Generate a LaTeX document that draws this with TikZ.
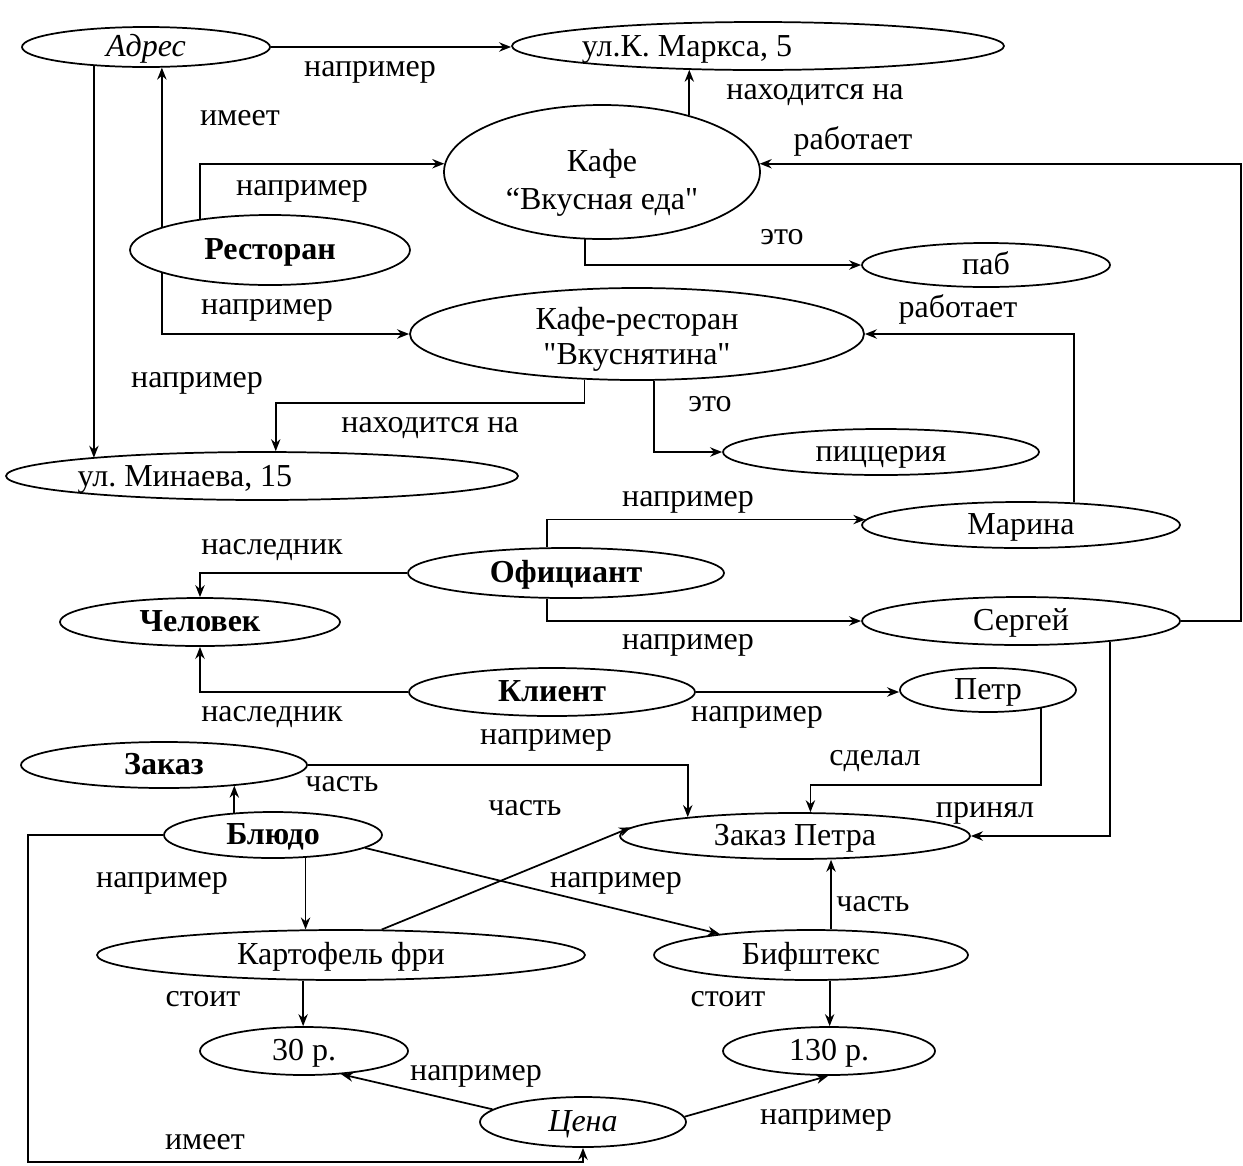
\documentclass[tikz,border=0pt]{standalone}
\usepackage{fontspec}
\setmainfont{Liberation Serif}
\newfontfamily\nolig{Liberation Serif}[Ligatures=TeXOff]
\usetikzlibrary{arrows.meta,shapes.geometric}
\frenchspacing
\newcommand{\sq}{{\nolig\char34}}
\begin{document}
\begin{tikzpicture}[x=0.75pt,y=-0.75pt,
  font=\fontsize{24}{28.5}\selectfont,
  txt/.style={text height=14pt,text depth=0pt},
  el/.style 2 args={ellipse,draw,line width=1.3pt,inner sep=0pt,txt,
    minimum width=#1*1.5pt,minimum height=#2*1.5pt},
  con/.style={line width=1.3pt,-{Stealth[length=9pt,width=7pt]}},
  lab/.style={inner sep=0pt,txt}]
\useasboundingbox (0,0) rectangle (1243,1165);
\coordinate (fr) at (1241,0);
% nodes
\node[el={124}{20}] (adr) at (146,47) {\itshape Адрес};
\node[el={246}{24}] (marx) at (758,46) {};
\node[lab] (marxt) at (687,47) {ул.К. Маркса, 5};
\node[el={158}{67}] (kafe) at (602,172) {};
\node[lab] (kafe1) at (602,162) {Кафе};
\node[lab] (kafe2) at (602,200) {“Вкусная еда\sq};
\node[el={140}{35}] (rest) at (270,250) {\bfseries Ресторан};
\node[el={124}{22}] (pab) at (986,265) {паб};
\node[el={227}{46}] (kr) at (637,334) {};
\node[lab] (kr1) at (637,320) {Кафе-ресторан};
\node[lab] (kr2) at (637,355) {\sq Вкуснятина\sq};
\node[el={158}{23}] (pizz) at (881,452) {пиццерия};
\node[el={256}{24}] (min) at (262,476) {};
\node[lab] (mint) at (185,477) {ул. Минаева, 15};
\node[el={159}{23}] (mar) at (1021,525) {Марина};
\node[el={158}{25}] (ofic) at (566,573) {\bfseries Официант};
\node[el={140}{24}] (chel) at (200,622) {\bfseries Человек};
\node[el={159}{24}] (serg) at (1021,621) {Сергей};
\node[el={143}{24}] (kli) at (552,692) {\bfseries Клиент};
\node[el={88}{22}] (petr) at (988,690) {Петр};
\node[el={143}{23}] (zak) at (164,765) {\bfseries Заказ};
\node[el={109}{23}] (blu) at (273,835) {\bfseries Блюдо};
\node[el={175}{23}] (zp) at (795,836) {Заказ Петра};
\node[el={244}{25}] (kart) at (341,955) {Картофель фри};
\node[el={157}{25}] (bif) at (811,955) {Бифштекс};
\node[el={104}{24}] (p30) at (304,1051) {30 р.};
\node[el={106}{24}] (p130) at (829,1051) {130 р.};
\node[el={103}{25}] (cena) at (583,1122) {\itshape Цена};
% connectors
\draw[con] (adr.east) -- (adr.east -| marx.west);
\draw[con] (adr.200) -- (adr.200 |- min.174);
\draw[con] (rest.168) -- (rest.168 |- adr.314);
\draw[con] (rest.192) |- (kr.west);
\draw[con] (rest.156) |- (kafe.177);
\draw[con] (kafe.33) -- (kafe.33 |- marx.198);
\draw[con] (serg.east) -- (serg.east -| fr) |- (kafe.3);
\draw[con] (kafe.256) |- (pab.west);
\draw[con] (mar.23) |- (kr.east);
\draw[con] (kr.221) -- (kr.221 |- 0,403) -| (min.61);
\draw[con] (kr.290) |- (pizz.west);
\draw[con] (ofic.126) |- (mar.178);
\draw[con] (ofic.234) |- (serg.west);
\draw[con] (ofic.west) -| (chel.north);
\draw[con] (kli.west) -| (chel.south);
\draw[con] (kli.east) -- (kli.east -| petr.west);
\draw[con] (petr.341) -- (petr.341 |- 0,785) -| (zp.57);
\draw[con] (serg.347) |- (zp.east);
\draw[con] (zak.east) -| (zp.170);
\draw[con] (blu.150) -- (blu.150 |- zak.344);
\draw[con] (kart.32) -- (zp.177);
\draw[con] (blu.352) -- (bif.167);
\draw[con] (blu.325) -- (blu.325 |- kart.146);
\draw[con] (bif.52) -- (bif.52 |- zp.303);
\draw[con] (kart.214) -- (kart.214 |- p30.north);
\draw[con] (bif.306) -- (bif.306 |- p130.north);
\draw[con] (cena.172) -- (p30.328);
\draw[con] (cena.3) -- (p130.268);
\draw[con] (blu.west) -| (28,1162) -| (cena.south);
% labels
\node[lab] (l1) at (370,67) {например};
\node[lab] (l2) at (240,116) {имеет};
\node[lab] (l3) at (302,186) {например};
\node[lab] (l4) at (815,90) {находится на};
\node[lab] (l5) at (853,140) {работает};
\node[lab] (l6) at (782,235) {это};
\node[lab] (l7) at (267,305) {например};
\node[lab] (l8) at (958,308) {работает};
\node[lab] (l9) at (197,378) {например};
\node[lab] (l10) at (710,402) {это};
\node[lab] (l11) at (430,423) {находится на};
\node[lab] (l12) at (688,497) {например};
\node[lab] (l13) at (272,545) {наследник};
\node[lab] (l14) at (688,640) {например};
\node[lab] (l15) at (272,712) {наследник};
\node[lab] (l16) at (757,712) {например};
\node[lab] (l17) at (546,735) {например};
\node[lab] (l18) at (875,756) {сделал};
\node[lab] (l19) at (342,782) {часть};
\node[lab] (l20) at (525,806) {часть};
\node[lab] (l21) at (985,808) {принял};
\node[lab] (l22) at (162,878) {например};
\node[lab] (l23) at (616,878) {например};
\node[lab] (l24) at (873,902) {часть};
\node[lab] (l25) at (203,997) {стоит};
\node[lab] (l26) at (728,997) {стоит};
\node[lab] (l27) at (476,1071) {например};
\node[lab] (l28) at (826,1115) {например};
\node[lab] (l29) at (205,1140) {имеет};
\end{tikzpicture}
\end{document}
